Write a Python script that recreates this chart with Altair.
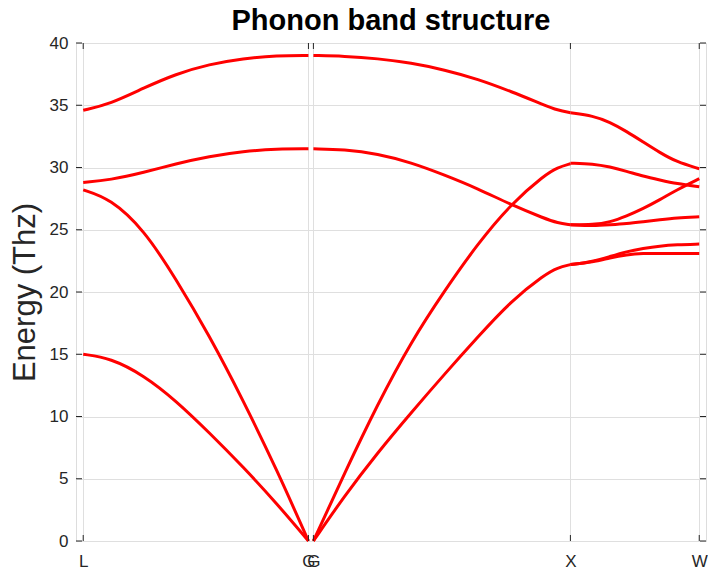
import altair as alt
import pandas as pd

# High-symmetry points along the k-path
TICK_LABELS = ["L", "G", "G", "X", "W"]
TICK_POS = [0.0, 1.0, 1.022, 2.163, 2.735]
K_MIN, K_MAX = -0.032, 2.765
Y_TICKS = [0, 5, 10, 15, 20, 25, 30, 35, 40]

# L -> G  (fraction along segment, energies in THz)
LG_T = [0.0, 0.12, 0.27, 0.41, 0.56, 0.71, 0.86, 1.0]
LG_B1 = [34.6, 35.1, 36.4, 37.5, 38.3, 38.75, 39.0, 39.0]
LG_B2 = [28.8, 29.0, 29.6, 30.3, 30.9, 31.3, 31.5, 31.5]
LG_B3 = [28.2, 27.5, 25.0, 21.1, 16.5, 11.3, 5.7, 0.0]
LG_B4 = [15.0, 14.7, 13.3, 11.3, 8.7, 5.95, 3.0, 0.0]

# G -> X
GX_T = [0.0, 0.12, 0.25, 0.38, 0.51, 0.64, 0.77, 0.9, 0.95, 1.0]
GX_B1 = [39.0, 38.95, 38.75, 38.4, 37.85, 37.1, 36.1, 35.0, 34.6, 34.4]
GX_B2 = [31.5, 31.45, 31.1, 30.4, 29.4, 28.3, 27.0, 25.9, 25.55, 25.4]
GX_B3 = [0.0, 5.4, 11.0, 16.0, 20.1, 23.9, 27.1, 29.4, 30.0, 30.3]
GX_B4 = [0.0, 3.6, 7.1, 10.3, 13.4, 16.4, 19.3, 21.4, 21.95, 22.2]

# X -> W
XW_T = [0.0, 0.177, 0.306, 0.436, 0.565, 0.694, 0.824, 1.0]
XW_B1 = [34.4, 34.15, 33.65, 32.9, 32.05, 31.2, 30.45, 29.9]
XW_B2 = [30.35, 30.3, 30.05, 29.7, 29.3, 29.0, 28.7, 28.45]
XW_B3 = [25.4, 25.4, 25.6, 26.1, 26.7, 27.4, 28.2, 29.1]
XW_B4 = [25.4, 25.3, 25.4, 25.5, 25.65, 25.8, 25.95, 26.05]
XW_B5 = [22.2, 22.45, 22.85, 23.25, 23.5, 23.7, 23.8, 23.85]
XW_B6 = [22.2, 22.4, 22.75, 23.0, 23.1, 23.1, 23.1, 23.1]

segments = [
    ("LG", TICK_POS[0], TICK_POS[1], LG_T, [LG_B1, LG_B2, LG_B3, LG_B4]),
    ("GX", TICK_POS[2], TICK_POS[3], GX_T, [GX_B1, GX_B2, GX_B3, GX_B4]),
    ("XW", TICK_POS[3], TICK_POS[4], XW_T, [XW_B1, XW_B2, XW_B3, XW_B4, XW_B5, XW_B6]),
]

rows = []
for name, k0, k1, ts, bands in segments:
    for b, band in enumerate(bands):
        for t, e in zip(ts, band):
            rows.append({"series": f"{name}-{b}", "k": k0 + t * (k1 - k0), "E": e})
bands_df = pd.DataFrame(rows)

xticks_df = pd.DataFrame({"k": TICK_POS, "label": TICK_LABELS})
yticks_df = pd.DataFrame({"E": Y_TICKS})

W, H = 630, 498
AXIS_COLOR = "#262626"
GRID_COLOR = "#dfdfdf"
FONT = "Liberation Sans"

label_expr = " : ".join(
    f"datum.value == {p} ? '{l}'" for p, l in zip(TICK_POS, TICK_LABELS)
) + " : ''"

x_scale = alt.Scale(domain=[K_MIN, K_MAX], nice=False, zero=False)
y_scale = alt.Scale(domain=[0, 40], nice=False)

lines = alt.Chart(bands_df).mark_line(
    color="#ff0000", strokeWidth=3, interpolate="basis"
).encode(
    x=alt.X("k:Q", scale=x_scale, title=None,
            axis=alt.Axis(values=TICK_POS, labelExpr=label_expr, grid=True,
                          gridColor=GRID_COLOR, tickSize=0, domain=False,
                          labelOverlap=False, labelPadding=12,
                          labelFontSize=17, labelColor=AXIS_COLOR, labelFont=FONT)),
    y=alt.Y("E:Q", scale=y_scale, title="Energy (Thz)",
            axis=alt.Axis(values=Y_TICKS, grid=True, gridColor=GRID_COLOR,
                          tickSize=0, domain=False, labelPadding=8,
                          labelFontSize=17, labelColor=AXIS_COLOR, labelFont=FONT,
                          titleFontSize=31, titleFontWeight="normal",
                          titleColor=AXIS_COLOR, titleFont=FONT, titlePadding=8)),
    detail="series:N",
)

tick_len = 6
y_left = alt.Chart(yticks_df).mark_rule(color=AXIS_COLOR, strokeWidth=1).encode(
    y=alt.Y("E:Q", scale=y_scale), x=alt.value(0), x2=alt.value(tick_len))
y_right = alt.Chart(yticks_df).mark_rule(color=AXIS_COLOR, strokeWidth=1).encode(
    y=alt.Y("E:Q", scale=y_scale), x=alt.value(W - tick_len), x2=alt.value(W))
x_bottom = alt.Chart(xticks_df).mark_rule(color=AXIS_COLOR, strokeWidth=1).encode(
    x=alt.X("k:Q", scale=x_scale), y=alt.value(H), y2=alt.value(H - tick_len))
x_top = alt.Chart(xticks_df).mark_rule(color=AXIS_COLOR, strokeWidth=1).encode(
    x=alt.X("k:Q", scale=x_scale), y=alt.value(0), y2=alt.value(tick_len))

chart = alt.layer(lines, y_left, y_right, x_bottom, x_top).properties(
    width=W,
    height=H,
    title=alt.TitleParams("Phonon band structure", font=FONT, fontSize=29,
                          fontWeight="bold", color="#000000", anchor="middle",
                          offset=-2),
    autosize=alt.AutoSizeParams(type="none"),
    padding={"left": 76, "top": 43, "right": 2, "bottom": 29},
).configure_view(
    stroke=AXIS_COLOR, strokeWidth=1
).configure(background="white")

chart.save("out.html", embed_options={"renderer": "svg", "actions": False})
